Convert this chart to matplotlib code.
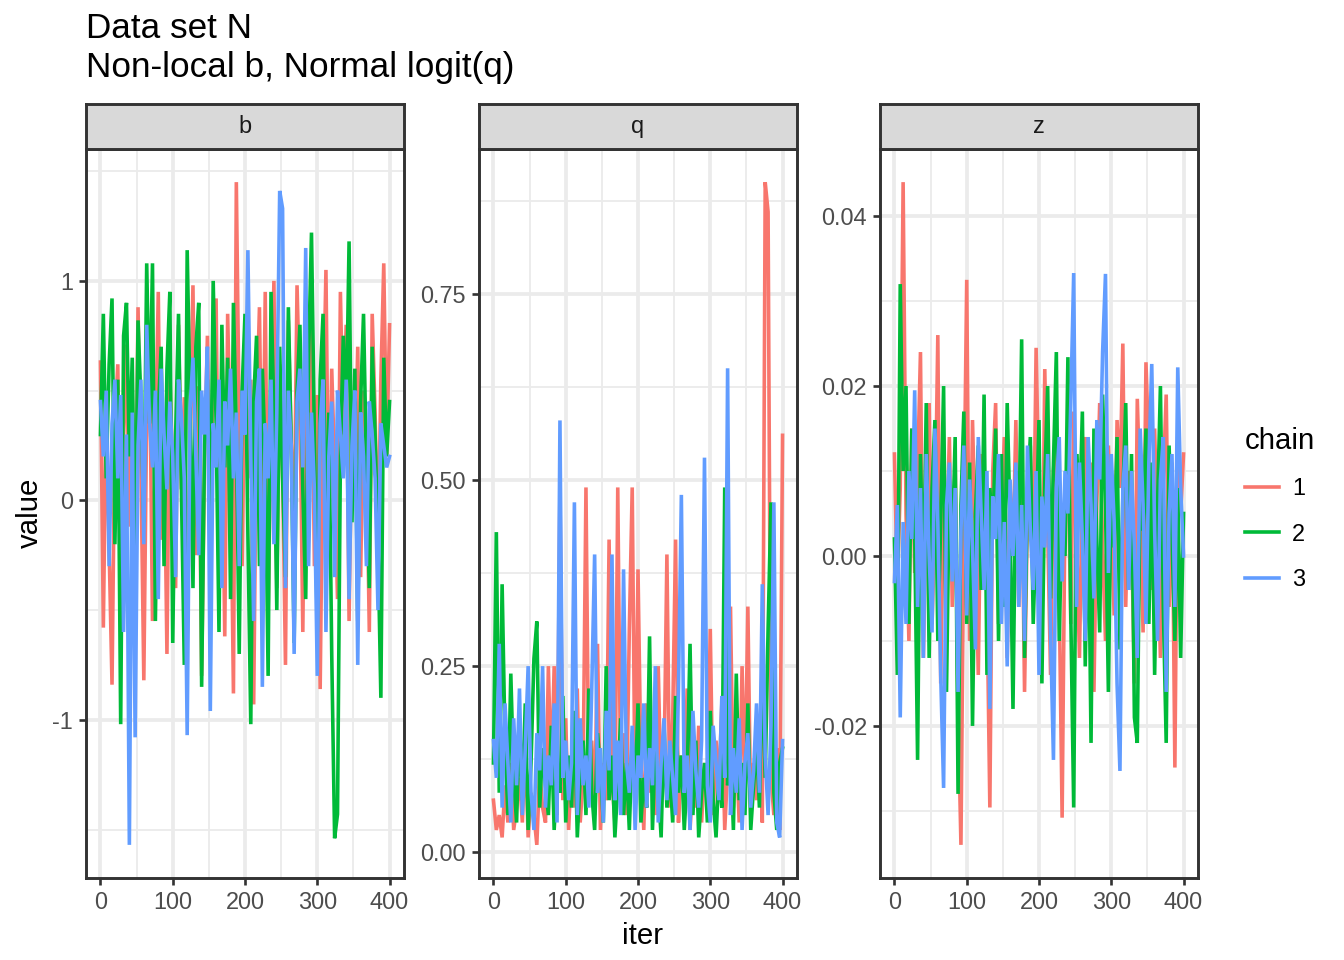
import numpy as np
import matplotlib
matplotlib.use("Agg")
import matplotlib.pyplot as plt
from matplotlib.ticker import MultipleLocator, FixedLocator
from matplotlib.lines import Line2D

plt.rcParams['font.family'] = ['Liberation Sans', 'DejaVu Sans']
plt.rcParams['axes.unicode_minus'] = False

# values (one every 4 iterations)
b_chain1 = [0.63, -0.58, 0.45, -0.22, -0.84, 0.35, 0.62, -0.45, 0.28, 0.71, -0.12, 0.50, -0.30, 0.88, 0.15,
            -0.82, 0.40, 0.65, -0.55, 0.22, 0.95, -0.18, 0.33, -0.70, 0.58, 0.12, -0.40, 0.80, 0.05, 0.47,
            -0.65, 0.30, 0.98, -0.25, 0.52, -0.80, 0.18, 0.75, -0.10, 0.60, 0.92, -0.35, 0.44, -0.62, 0.85,
            0.20, -0.88, 1.45, 0.35, -0.30, 0.65, 0.10, 0.55, -0.93, 0.40, 0.88, -0.20, 0.95, -0.50, 0.30,
            1.00, -0.40, 0.62, 0.15, -0.75, 0.82, 0.25, -0.15, 0.98, 0.45, -0.60, 0.70, 0.05, 0.90, -0.30,
            0.48, -0.86, 0.35, 1.05, -0.20, 0.60, 0.15, -0.45, 0.95, 0.30, 0.80, -0.55, 0.40, 0.10, 0.70,
            -0.35, 0.50, 0.25, -0.60, 0.85, 0.40, -0.25, 0.55, 1.08, 0.20, 0.80]
b_chain2 = [0.30, 0.85, 0.10, 0.62, 0.92, -0.20, 0.55, -1.02, 0.75, 0.90, 0.20, 0.65, -0.35, 0.82, 0.45,
            -0.10, 1.08, 0.35, 1.08, -0.55, 0.40, 0.70, -0.30, 0.60, 0.95, -0.65, 0.30, 0.85, 0.05, -0.75,
            1.14, 0.45, -0.40, 0.70, 0.90, -0.85, 0.25, 0.55, -0.20, 1.00, 0.35, -0.60, 0.80, 0.15, 0.65,
            -0.45, 0.90, 0.30, -0.70, 0.50, 0.85, -0.15, -1.02, 0.45, 0.75, -0.30, 0.60, 0.20, -0.80, 0.95,
            0.40, -0.50, 0.70, 0.10, -0.35, 0.88, 0.25, -0.65, 0.50, 0.80, 0.05, -0.45, 0.65, 1.22, 0.30,
            -0.60, 0.55, 0.85, -0.25, 0.40, -0.70, -1.54, -1.43, 0.20, 0.75, 0.35, 1.18, -0.10, 0.60, -0.55,
            0.45, 0.85, 0.15, -0.40, 0.70, 0.30, -0.20, -0.90, 0.65, 0.20, 0.45]
b_chain3 = [0.45, 0.20, 0.50, -0.30, 0.35, 0.55, 0.10, 0.48, -0.60, 0.30, -1.57, 0.40, -1.08, 0.25, 0.55,
            -0.20, 0.80, 0.35, 0.15, 0.50, -0.45, 0.60, 0.30, 0.05, 0.45, 0.20, -0.35, 0.55, 0.38, 0.10,
            -1.07, 0.42, 0.65, 0.20, -0.25, 0.50, 0.30, 0.70, -0.96, 0.35, 0.15, 0.55, -0.40, 0.45, 0.25,
            0.60, 0.10, 0.40, -0.30, 0.50, 0.30, 1.14, 0.20, -0.55, 0.45, 0.60, -0.85, 0.35, 0.10, 0.55,
            -0.20, 0.40, 1.41, 1.33, -0.40, 0.50, 0.25, -0.70, 0.45, 0.60, 0.15, 1.15, -0.30, 0.40, 0.05,
            -0.80, 0.35, 0.55, -0.60, 0.20, 0.45, -0.35, 0.50, 0.30, 0.10, 0.55, -0.45, 0.25, 0.50, -0.75,
            0.40, 0.20, -0.30, 0.45, 0.30, 0.10, -0.50, 0.35, 0.25, 0.15, 0.20]

q_chain1 = [0.07, 0.03, 0.05, 0.02, 0.09, 0.04, 0.12, 0.03, 0.06, 0.10, 0.04, 0.15, 0.02, 0.08, 0.05,
            0.01, 0.11, 0.06, 0.04, 0.25, 0.09, 0.25, 0.05, 0.49, 0.07, 0.18, 0.03, 0.12, 0.06, 0.22,
            0.04, 0.10, 0.49, 0.08, 0.15, 0.05, 0.28, 0.03, 0.12, 0.07, 0.42, 0.10, 0.04, 0.49, 0.09,
            0.16, 0.05, 0.30, 0.49, 0.06, 0.38, 0.12, 0.03, 0.20, 0.08, 0.14, 0.05, 0.25, 0.07, 0.11,
            0.40, 0.06, 0.18, 0.42, 0.04, 0.13, 0.08, 0.22, 0.03, 0.10, 0.06, 0.17, 0.04, 0.12, 0.08,
            0.30, 0.05, 0.15, 0.09, 0.20, 0.03, 0.11, 0.33, 0.06, 0.14, 0.04, 0.25, 0.08, 0.33, 0.05,
            0.12, 0.07, 0.18, 0.04, 0.90, 0.86, 0.10, 0.05, 0.14, 0.03, 0.56]
q_chain2 = [0.12, 0.43, 0.08, 0.36, 0.15, 0.05, 0.24, 0.10, 0.04, 0.18, 0.07, 0.20, 0.03, 0.12, 0.26,
            0.31, 0.06, 0.14, 0.09, 0.05, 0.17, 0.03, 0.11, 0.08, 0.21, 0.04, 0.13, 0.06, 0.19, 0.02,
            0.10, 0.15, 0.05, 0.22, 0.08, 0.03, 0.16, 0.11, 0.04, 0.25, 0.07, 0.13, 0.02, 0.09, 0.18,
            0.05, 0.12, 0.03, 0.15, 0.08, 0.20, 0.04, 0.10, 0.06, 0.29, 0.03, 0.14, 0.09, 0.02, 0.17,
            0.06, 0.11, 0.04, 0.21, 0.08, 0.13, 0.03, 0.10, 0.28, 0.05, 0.15, 0.02, 0.08, 0.12, 0.04,
            0.19, 0.07, 0.02, 0.11, 0.06, 0.49, 0.09, 0.14, 0.03, 0.24, 0.07, 0.12, 0.05, 0.20, 0.03,
            0.09, 0.15, 0.06, 0.27, 0.10, 0.30, 0.47, 0.08, 0.03, 0.12, 0.14]
q_chain3 = [0.15, 0.10, 0.28, 0.06, 0.20, 0.12, 0.04, 0.18, 0.09, 0.22, 0.05, 0.14, 0.25, 0.08, 0.03,
            0.16, 0.11, 0.25, 0.06, 0.13, 0.09, 0.20, 0.04, 0.58, 0.10, 0.15, 0.07, 0.12, 0.47, 0.05,
            0.18, 0.09, 0.13, 0.06, 0.22, 0.40, 0.08, 0.14, 0.04, 0.19, 0.11, 0.40, 0.07, 0.15, 0.05,
            0.38, 0.12, 0.08, 0.17, 0.03, 0.13, 0.10, 0.20, 0.06, 0.14, 0.09, 0.25, 0.04, 0.12, 0.18,
            0.07, 0.15, 0.10, 0.05, 0.22, 0.48, 0.08, 0.13, 0.03, 0.19, 0.11, 0.06, 0.15, 0.53, 0.09,
            0.04, 0.17, 0.12, 0.07, 0.21, 0.10, 0.65, 0.05, 0.14, 0.08, 0.18, 0.03, 0.12, 0.16, 0.06,
            0.11, 0.20, 0.08, 0.36, 0.13, 0.05, 0.17, 0.47, 0.04, 0.02, 0.15]

z_chain1 = [0.012, -0.004, 0.008, 0.044, 0.005, -0.010, 0.015, -0.002, 0.010, 0.024, -0.012, 0.006, 0.018,
            -0.008, 0.003, 0.026, -0.015, 0.009, 0.001, 0.014, -0.006, 0.011, -0.018, -0.034, 0.004, 0.0325,
            -0.010, 0.016, 0.002, -0.014, 0.012, 0.006, -0.005, -0.0296, 0.010, 0.018, -0.008, 0.004, 0.014,
            -0.012, 0.008, 0.000, 0.016, -0.006, 0.011, -0.016, 0.005, 0.013, -0.003, 0.0245, 0.007, -0.010,
            0.022, 0.003, -0.014, 0.010, 0.015, -0.005, -0.0308, 0.006, 0.012, -0.008, 0.017, 0.002, -0.012,
            0.009, 0.014, -0.004, 0.011, -0.016, 0.006, 0.018, 0.001, -0.010, 0.013, 0.004, -0.007, 0.016,
            0.008, 0.025, -0.006, 0.010, 0.003, -0.015, 0.0185, 0.007, -0.009, 0.0228, 0.012, -0.004, 0.015,
            0.002, -0.012, 0.009, 0.019, -0.006, 0.011, -0.0249, 0.014, 0.005, 0.012]
z_chain2 = [0.002, -0.014, 0.032, 0.010, 0.020, -0.008, 0.015, 0.003, -0.024, 0.012, -0.005, 0.018, -0.012,
            0.008, 0.016, -0.010, 0.004, 0.020, -0.016, 0.009, 0.001, 0.014, -0.028, 0.006, 0.017, -0.008,
            0.011, -0.020, 0.005, 0.013, -0.004, 0.019, -0.014, 0.008, 0.002, 0.015, -0.010, 0.012, -0.006,
            0.018, 0.004, -0.018, 0.010, 0.001, 0.0255, -0.012, 0.007, 0.014, -0.008, 0.003, 0.016, -0.015,
            0.009, 0.020, -0.005, 0.011, 0.024, -0.010, 0.006, 0.000, 0.0234, -0.007, -0.0296, 0.012, 0.004,
            0.017, -0.013, 0.008, -0.022, 0.015, 0.002, -0.009, 0.019, 0.006, -0.016, 0.010, 0.001, 0.014,
            -0.011, 0.007, 0.018, -0.004, 0.012, -0.019, -0.022, 0.009, 0.003, 0.015, -0.008, 0.011, -0.014,
            0.006, 0.020, -0.006, -0.022, 0.013, 0.002, -0.010, 0.008, -0.012, 0.005]
z_chain3 = [-0.003, 0.006, -0.019, 0.004, -0.008, 0.010, 0.002, 0.0195, -0.006, 0.008, -0.012, 0.012, 0.000,
            -0.009, 0.015, 0.004, -0.014, -0.0273, 0.006, 0.011, -0.003, 0.008, -0.016, 0.003, 0.013, -0.007,
            0.009, 0.001, -0.011, 0.014, 0.005, -0.004, 0.010, -0.018, 0.007, 0.002, 0.012, -0.008, 0.004,
            -0.013, 0.009, 0.000, 0.011, -0.006, 0.006, -0.010, 0.013, 0.003, -0.004, 0.010, -0.014, 0.007,
            0.001, 0.012, -0.009, -0.024, 0.008, 0.014, -0.003, 0.010, 0.005, 0.018, 0.0333, -0.006, 0.011,
            0.002, -0.010, 0.014, 0.006, -0.005, 0.016, 0.009, 0.024, 0.0332, -0.002, 0.012, 0.004, -0.015,
            -0.0253, 0.008, 0.013, -0.004, 0.010, 0.001, -0.012, 0.015, 0.006, -0.008, 0.011, 0.0226, 0.003,
            -0.010, 0.009, 0.014, -0.016, 0.005, 0.012, -0.006, 0.0222, 0.008, 0.000]

params = ['b', 'q', 'z']
chains = ['1', '2', '3']
chain_colors = ['#F8766D', '#00BA38', '#619CFF']
series = {
    'b': [b_chain1, b_chain2, b_chain3],
    'q': [q_chain1, q_chain2, q_chain3],
    'z': [z_chain1, z_chain2, z_chain3],
}
y_major = {'b': 1.0, 'q': 0.25, 'z': 0.02}
y_fmt = {'b': '{:.0f}', 'q': '{:.2f}', 'z': '{:.2f}'}

W, H = 1344, 960
fig = plt.figure(figsize=(7, 5), dpi=192)

panel_left = [86, 479, 880]
panel_w = 318
panel_top, panel_bot = 149, 878
strip_top = 104

for p, left in zip(params, panel_left):
    ax = fig.add_axes([left / W, 1 - panel_bot / H, panel_w / W, (panel_bot - panel_top) / H])
    allv = np.concatenate([np.asarray(s) for s in series[p]])
    lo, hi = allv.min(), allv.max()
    pad = 0.05 * (hi - lo)
    ax.set_ylim(lo - pad, hi + pad)
    ax.set_xlim(-20, 420)

    for vals, col in zip(series[p], chain_colors):
        it = np.linspace(0, 400, len(vals))
        ax.plot(it, vals, color=col, lw=1.35, solid_joinstyle='miter', zorder=3)

    step = y_major[p]
    ax.yaxis.set_major_locator(MultipleLocator(step))
    ax.yaxis.set_minor_locator(MultipleLocator(step / 2))
    ax.xaxis.set_major_locator(FixedLocator([0, 100, 200, 300, 400]))
    ax.xaxis.set_minor_locator(FixedLocator([50, 150, 250, 350]))
    ticks = [t for t in ax.get_yticks() if lo - pad <= t <= hi + pad]
    ax.set_yticks(ticks)
    ax.set_yticklabels([y_fmt[p].format(t).replace('-0.00', '0.00') for t in ticks])

    ax.grid(which='major', color='#EBEBEB', lw=1.4, zorder=0)
    ax.grid(which='minor', color='#EBEBEB', lw=0.7, zorder=0)
    ax.set_axisbelow(True)
    for sp in ax.spines.values():
        sp.set_color('#333333')
        sp.set_linewidth(1.1)
    ax.tick_params(which='major', length=2.75, width=1.0, color='#333333',
                   labelsize=8.8, labelcolor='#4D4D4D', pad=2.2)
    ax.tick_params(which='minor', length=0)

    # facet strip
    sax = fig.add_axes([left / W, 1 - panel_top / H, panel_w / W, (panel_top - strip_top) / H])
    sax.set_facecolor('#D9D9D9')
    sax.set_xticks([])
    sax.set_yticks([])
    for sp in sax.spines.values():
        sp.set_color('#333333')
        sp.set_linewidth(1.1)
    sax.text(0.5, 0.5, p, ha='center', va='center', fontsize=8.8, color='#1A1A1A',
             transform=sax.transAxes)

fig.text(86 / W, 1 - 12 / H, 'Data set N\nNon-local b, Normal logit(q)', ha='left', va='top',
         fontsize=13.2, color='black', linespacing=1.25)
fig.text(30 / W, 1 - 513 / H, 'value', rotation=90, ha='center', va='center', fontsize=11)
fig.text(642 / W, 1 - 936 / H, 'iter', ha='center', va='center', fontsize=11)

handles = [Line2D([], [], color=c, lw=1.35) for c in chain_colors]
fig.legend(handles, chains, title='chain', loc='upper left',
           bbox_to_anchor=(1224 / W, 1 - 406 / H), frameon=False, fontsize=8.8,
           title_fontsize=11, handlelength=1.45, labelspacing=0.95, handletextpad=0.55,
           alignment='left')

fig.savefig('out.png', dpi=192)
